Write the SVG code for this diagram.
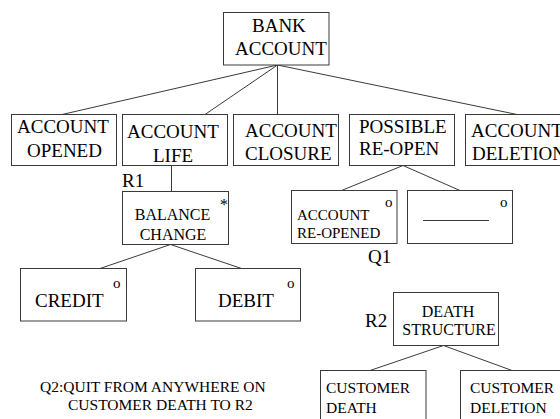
<svg xmlns="http://www.w3.org/2000/svg" width="560" height="419" viewBox="0 0 560 419">
  <style>
    .box { fill: #ffffff; stroke: #3a3a3a; stroke-width: 1; }
    .link { stroke: #3a3a3a; stroke-width: 1; fill: none; }
  </style>
  <rect x="0" y="0" width="560" height="419" fill="#ffffff"/>

  <!-- tree connectors -->
  <g id="connectors">
    <line class="link" x1="277.5" y1="65" x2="62" y2="114.5"/>
    <line class="link" x1="277.5" y1="65" x2="205" y2="114.5"/>
    <line class="link" x1="277.5" y1="65" x2="277.5" y2="114.5"/>
    <line class="link" x1="277.5" y1="65" x2="517" y2="114.5"/>
    <line class="link" x1="171.5" y1="165.5" x2="171.5" y2="191.5"/>
    <line class="link" x1="170.5" y1="244.5" x2="100" y2="268.5"/>
    <line class="link" x1="170.5" y1="244.5" x2="241.5" y2="268.5"/>
    <line class="link" x1="403" y1="165.5" x2="341.5" y2="190.5"/>
    <line class="link" x1="403" y1="165.5" x2="460" y2="190.5"/>
    <line class="link" x1="443.5" y1="345.5" x2="370" y2="370.5"/>
    <line class="link" x1="443.5" y1="345.5" x2="512" y2="370.5"/>
  </g>

  <!-- node boxes; labels use the generic serif face -->
  <g id="bank-account">
    <rect class="box" x="223.5" y="12.5" width="105.5" height="52.5"/>
    <text x="252" y="32" font-family="serif" font-size="19">BANK</text>
    <text x="235" y="55" font-family="serif" font-size="19">ACCOUNT</text>
  </g>

  <g id="account-opened">
    <rect class="box" x="11.5" y="114.5" width="105" height="51"/>
    <text x="17" y="133" font-family="serif" font-size="19">ACCOUNT</text>
    <text x="27" y="157" font-family="serif" font-size="19">OPENED</text>
  </g>

  <g id="account-life">
    <rect class="box" x="122.5" y="114.5" width="105" height="51"/>
    <text x="127" y="138" font-family="serif" font-size="19">ACCOUNT</text>
    <text x="153" y="162" font-family="serif" font-size="19">LIFE</text>
  </g>

  <g id="account-closure">
    <rect class="box" x="233.5" y="114.5" width="105" height="51"/>
    <text x="245" y="137" font-family="serif" font-size="19">ACCOUNT</text>
    <text x="245" y="160" font-family="serif" font-size="19">CLOSURE</text>
  </g>

  <g id="possible-re-open">
    <rect class="box" x="349.5" y="114.5" width="105" height="51"/>
    <text x="359" y="133" font-family="serif" font-size="19">POSSIBLE</text>
    <text x="359" y="155" font-family="serif" font-size="19">RE-OPEN</text>
  </g>

  <g id="account-deletion">
    <rect class="box" x="465.5" y="114.5" width="110" height="51"/>
    <text x="471" y="137" font-family="serif" font-size="19">ACCOUNT</text>
    <text x="472" y="160" font-family="serif" font-size="19">DELETION</text>
  </g>

  <g id="r1-label">
    <text x="122" y="187" font-family="serif" font-size="19">R1</text>
  </g>

  <g id="balance-change">
    <rect class="box" x="122.5" y="191.5" width="106" height="53"/>
    <text x="172.5" y="220" text-anchor="middle" font-family="serif" font-size="16">BALANCE</text>
    <text x="173" y="240" text-anchor="middle" font-family="serif" font-size="16">CHANGE</text>
    <text x="220" y="210" font-family="serif" font-size="16">*</text>
  </g>

  <g id="credit">
    <rect class="box" x="20.5" y="268.5" width="106" height="52.5"/>
    <text x="35" y="306.5" font-family="serif" font-size="19">CREDIT</text>
    <text x="113" y="288" font-family="serif" font-size="15">o</text>
  </g>

  <g id="debit">
    <rect class="box" x="195.5" y="268.5" width="105" height="52.5"/>
    <text x="218" y="306.5" font-family="serif" font-size="19">DEBIT</text>
    <text x="287" y="288" font-family="serif" font-size="15">o</text>
  </g>

  <g id="account-re-opened">
    <rect class="box" x="291.5" y="190.5" width="105.5" height="53"/>
    <text x="297" y="220" font-family="serif" font-size="15">ACCOUNT</text>
    <text x="297" y="238" font-family="serif" font-size="15">RE-OPENED</text>
    <text x="385" y="207" font-family="serif" font-size="15">o</text>
  </g>

  <g id="blank-option">
    <rect class="box" x="407.5" y="190.5" width="105" height="53"/>
    <line class="link" x1="423" y1="220.5" x2="489" y2="220.5"/>
    <text x="500" y="207" font-family="serif" font-size="15">o</text>
  </g>

  <g id="q1-label">
    <text x="368" y="263" font-family="serif" font-size="19">Q1</text>
  </g>

  <g id="r2-label">
    <text x="365" y="327" font-family="serif" font-size="19">R2</text>
  </g>

  <g id="death-structure">
    <rect class="box" x="393.5" y="292.5" width="105" height="53"/>
    <text x="448" y="316.5" text-anchor="middle" font-family="serif" font-size="16">DEATH</text>
    <text x="449" y="335" text-anchor="middle" font-family="serif" font-size="16">STRUCTURE</text>
  </g>

  <g id="customer-death">
    <rect class="box" x="320.5" y="370.5" width="105.5" height="60"/>
    <text x="326" y="393" font-family="serif" font-size="15.5">CUSTOMER</text>
    <text x="326" y="413" font-family="serif" font-size="15.5">DEATH</text>
  </g>

  <g id="customer-deletion">
    <rect class="box" x="460.5" y="370.5" width="110" height="60"/>
    <text x="470" y="393" font-family="serif" font-size="15.5">CUSTOMER</text>
    <text x="470" y="413" font-family="serif" font-size="15.5">DELETION</text>
  </g>

  <g id="q2-note">
    <text x="40" y="392" font-family="serif" font-size="15.5">Q2:QUIT FROM ANYWHERE ON</text>
    <text x="68" y="410" font-family="serif" font-size="15.5">CUSTOMER DEATH TO R2</text>
  </g>
</svg>
